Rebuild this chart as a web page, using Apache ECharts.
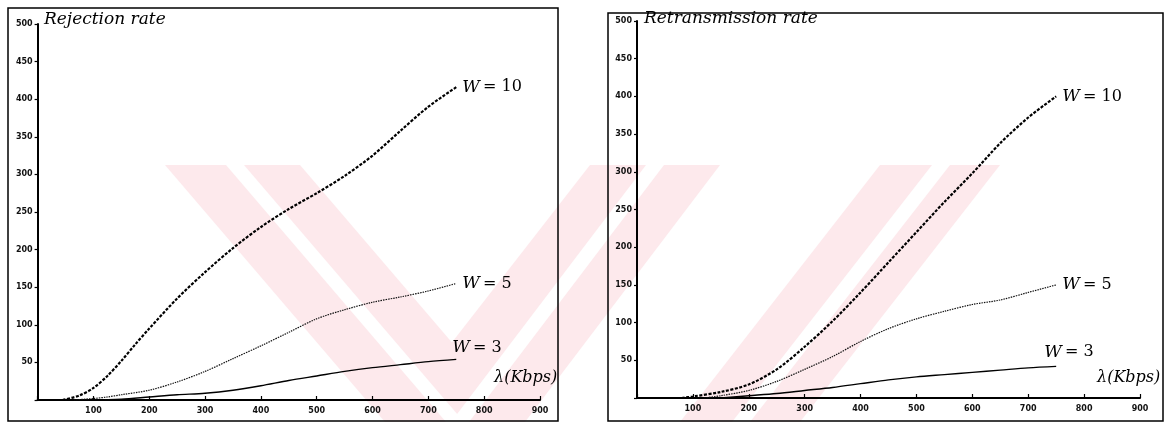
<!DOCTYPE html>
<html>
<head>
<meta charset="utf-8">
<script src="https://cdn.jsdelivr.net/npm/echarts@6/dist/echarts.min.js"></script>
<style>html,body{margin:0;padding:0;background:#fff}#c{width:1166px;height:422px}</style>
</head>
<body>
<div id="c"></div>
<script>
// ---- data (λ in Kbps, rate) ----
const xTicks = [0,100,200,300,400,500,600,700,800,900];
const yTicks = [0,50,100,150,200,250,300,350,400,450,500];

const rejLam10 = [45, 75, 100, 125, 150, 175, 200, 250, 300, 350, 400, 450, 500, 550, 600, 650, 700, 750];
const rejW10   = [0, 6, 16, 32, 52, 74, 95, 135, 170, 202, 230, 254, 275, 298, 325, 358, 390, 416];
const rejLam5  = [65, 100, 125, 150, 200, 250, 300, 350, 400, 450, 500, 550, 600, 650, 700, 750];
const rejW5    = [0, 2, 4, 7, 13, 24, 38, 55, 72, 90, 108, 120, 130, 137, 145, 155];
const rejLam3  = [90, 150, 200, 250, 300, 350, 400, 450, 500, 550, 600, 650, 700, 750];
const rejW3    = [0, 1, 4, 7, 9, 13, 19, 26, 32, 38, 43, 47, 51, 54];

const retLam10 = [80, 100, 150, 200, 250, 300, 350, 400, 450, 500, 550, 600, 650, 700, 750];
const retW10   = [0, 2, 8, 18, 38, 68, 102, 140, 180, 220, 260, 298, 338, 372, 400];
const retLam5  = [120, 150, 200, 250, 300, 350, 400, 450, 500, 550, 600, 650, 700, 750];
const retW5    = [0, 3, 10, 22, 38, 55, 75, 92, 105, 115, 124, 130, 140, 150];
const retLam3  = [150, 200, 250, 300, 350, 400, 450, 500, 550, 600, 650, 700, 750];
const retW3    = [0, 3, 6, 10, 14, 19, 24, 28, 31, 34, 37, 40, 42];

const titles = ['Rejection rate', 'Retransmission rate'];
const curveNames = ['10', '5', '3'];

function pairs(xs, ys){ return xs.map((x,i)=>[x, ys[i]]); }

const chart = echarts.init(document.getElementById('c'), null, {renderer:'canvas'});

const tickFont = {fontFamily:'DejaVu Sans', fontWeight:'bold', fontSize:8, color:'#111'};

function xAx(gi){
  return {gridIndex:gi, type:'value', min:0, max:900, interval:100,
    axisLine:{lineStyle:{color:'#000', width:2}},
    axisTick:{inside:true, length:4, lineStyle:{color:'#000', width:1.2}},
    axisLabel:Object.assign({margin:7, formatter:v=> v===0?'':String(v)}, tickFont),
    splitLine:{show:false}};
}
function yAx(gi){
  return {gridIndex:gi, type:'value', min:0, max:500, interval:50,
    axisLine:{lineStyle:{color:'#000', width:2}},
    axisTick:{inside:false, length:3, lineStyle:{color:'#000', width:1.2}},
    axisLabel:Object.assign({margin:5, formatter:v=> v===0?'':String(v)}, tickFont),
    splitLine:{show:false}};
}

const labelRich = {
  i:{fontFamily:'DejaVu Serif', fontStyle:'italic', fontSize:17, color:'#000'},
  n:{fontFamily:'DejaVu Serif', fontSize:16, color:'#000'}
};
function endLab(name, offset){
  return {show:true, distance:6, offset:offset||[0,0],
    formatter:()=> '{i|W} {n|= '+name+'}', rich:labelRich};
}

function series(gi, xs, ys, name, style, offset){
  return {type:'line', xAxisIndex:gi, yAxisIndex:gi, data:pairs(xs, ys), showSymbol:false,
    smooth:0.3, lineStyle:style, endLabel:endLab(name, offset), silent:true, animation:false, z:5};
}

const heavy = {color:'#000', width:2.2, type:[3,1.5]};
const thin  = {color:'#111', width:1.2, type:[1.5,1]};
const solid = {color:'#000', width:1.4, type:'solid'};

const wm = '#fde9ec';
function band(pts, fill){ return {type:'polygon', shape:{points:pts}, style:{fill:fill||wm}, z:-10, silent:true}; }

const option = {
  backgroundColor:'#fff',
  animation:false,
  grid:[
    {left:37.6, right:626, top:24, bottom:22},
    {left:637, right:26, top:21, bottom:24}
  ],
  xAxis:[xAx(0), xAx(1)],
  yAxis:[yAx(0), yAx(1)],
  series:[
    series(0, rejLam10, rejW10, curveNames[0], heavy),
    series(0, rejLam5, rejW5, curveNames[1], thin),
    series(0, rejLam3, rejW3, curveNames[2], solid, [-10,-12]),
    series(1, retLam10, retW10, curveNames[0], heavy),
    series(1, retLam5, retW5, curveNames[1], thin),
    series(1, retLam3, retW3, curveNames[2], solid, [-18,-14])
  ],
  graphic:[
    band([[165,165],[300,165],[520,422],[385,422]]),
    band([[590,165],[720,165],[525,422],[390,422]]),
    band([[880,165],[1000,165],[800,422],[680,422]]),
    band([[226,165],[244,165],[464,422],[446,422]], '#fff'),
    band([[646,165],[664,165],[469,422],[451,422]], '#fff'),
    band([[932,165],[950,165],[750,422],[732,422]], '#fff'),
    {type:'rect', shape:{x:8, y:8, width:550, height:413}, style:{fill:'none', stroke:'#000', lineWidth:1.5}, z:-1},
    {type:'rect', shape:{x:608, y:13, width:555, height:408}, style:{fill:'none', stroke:'#000', lineWidth:1.5}, z:-1},
    {type:'text', left:44, top:11, style:{text:titles[0], font:'italic 17px "DejaVu Serif"', fill:'#000'}},
    {type:'text', left:644, top:10, style:{text:titles[1], font:'italic 17px "DejaVu Serif"', fill:'#000'}},
    {type:'text', left:494, top:370, style:{text:'λ(Kbps)', font:'italic 16px "DejaVu Serif"', fill:'#000'}},
    {type:'text', left:1097, top:370, style:{text:'λ(Kbps)', font:'italic 16px "DejaVu Serif"', fill:'#000'}}
  ]
};
chart.setOption(option);
</script>
</body>
</html>
